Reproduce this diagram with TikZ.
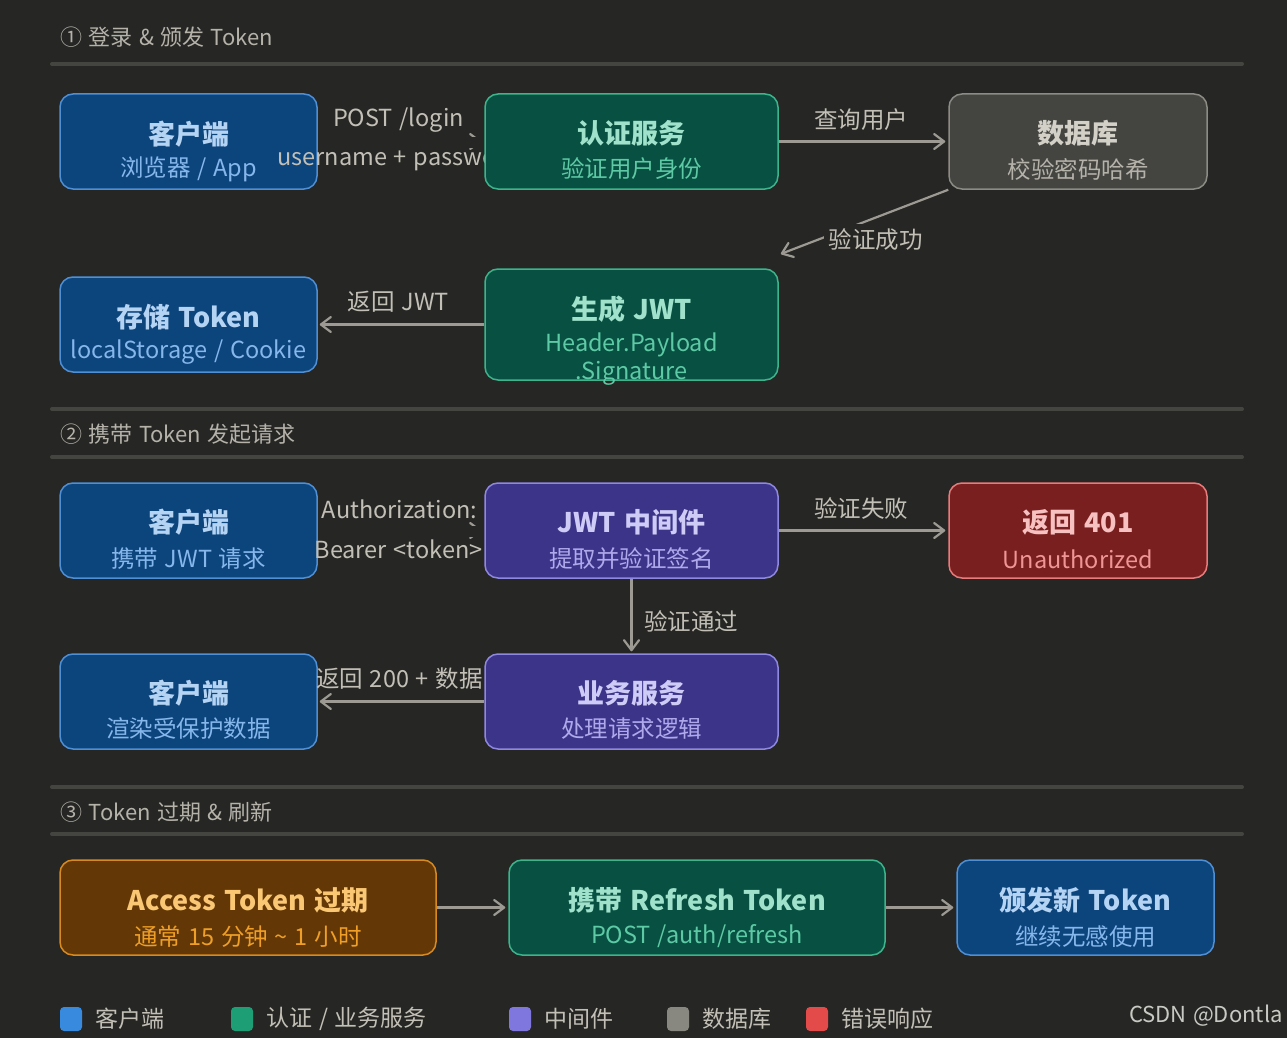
\documentclass[tikz,border=0pt]{standalone}
\usepackage{fontspec}
\setmainfont{Noto Sans CJK SC}[WordSpace=1.3]
\usepackage{xcolor}
\usepackage{tikz}
\usetikzlibrary{arrows.meta,positioning}
\pgfdeclarelayer{back}
\pgfdeclarelayer{edges}
\pgfsetlayers{back,edges,main}

\definecolor{bgc}{HTML}{262624}
\definecolor{sepc}{HTML}{444441}
\definecolor{hdrc}{HTML}{B4B2A9}
\definecolor{lblc}{HTML}{C2C0B6}
\definecolor{arrc}{HTML}{9C9A92}
\definecolor{wmc}{HTML}{C8C8C4}
% box colours: fill, line, title, subtitle
\definecolor{cliF}{HTML}{0C447C}\definecolor{cliL}{HTML}{4F8FD6}\definecolor{cliT}{HTML}{B5D4F4}\definecolor{cliS}{HTML}{85B7EB}
\definecolor{grnF}{HTML}{085041}\definecolor{grnL}{HTML}{3DB48C}\definecolor{grnT}{HTML}{9FE1CB}\definecolor{grnS}{HTML}{5DCAA5}
\definecolor{gryF}{HTML}{444441}\definecolor{gryL}{HTML}{8C8B84}\definecolor{gryT}{HTML}{D3D1C7}\definecolor{gryS}{HTML}{B4B2A9}
\definecolor{purF}{HTML}{3C3489}\definecolor{purL}{HTML}{8F88E0}\definecolor{purT}{HTML}{CECBF6}\definecolor{purS}{HTML}{AFA9EC}
\definecolor{redF}{HTML}{791F1F}\definecolor{redL}{HTML}{E87C7C}\definecolor{redT}{HTML}{F7C1C1}\definecolor{redS}{HTML}{F09595}
\definecolor{ambF}{HTML}{633806}\definecolor{ambL}{HTML}{D98A1F}\definecolor{ambT}{HTML}{FAC775}\definecolor{ambS}{HTML}{EF9F27}
% legend swatches
\definecolor{lgBlue}{HTML}{378ADD}
\definecolor{lgTeal}{HTML}{1D9E75}
\definecolor{lgPurp}{HTML}{7F77DD}
\definecolor{lgGray}{HTML}{888780}
\definecolor{lgRed}{HTML}{E24B4A}

\begin{document}
\begin{tikzpicture}[x=1pt, y=-1pt,
    box/.style={rounded corners=13pt, line width=1.5pt, minimum height=95pt, inner sep=0pt},
    cli/.style={box, fill=cliF, draw=cliL},
    grn/.style={box, fill=grnF, draw=grnL},
    gry/.style={box, fill=gryF, draw=gryL},
    pur/.style={box, fill=purF, draw=purL},
    red/.style={box, fill=redF, draw=redL},
    amb/.style={box, fill=ambF, draw=ambL},
    ttl/.style={font=\fontsize{27}{32}\selectfont\bfseries, inner sep=0pt},
    sub/.style={font=\fontsize{23.5}{28}\selectfont, inner sep=0pt, align=center},
    lbl/.style={font=\fontsize{23.5}{28}\selectfont, text=lblc, inner sep=0pt},
    hdr/.style={font=\fontsize{22}{26}\selectfont, text=hdrc, anchor=west, inner sep=0pt},
    sep/.style={draw=sepc, line width=4pt, line cap=round},
    arr/.style={draw=arrc, line width=2.2pt, -{Straight Barb[length=10pt,width=15pt,round]}, shorten >=3pt},
    sw/.style={rounded corners=4pt, minimum width=22pt, minimum height=24pt, inner sep=0pt},
    lgt/.style={font=\fontsize{23}{28}\selectfont, text=lblc, inner sep=0pt}]

  \begin{pgfonlayer}{back}
    \fill[bgc] (0,0) rectangle (1287,1038);
  \end{pgfonlayer}
  \useasboundingbox (0,0) rectangle (1287,1038);

  % section headers
  \node[hdr] (h1) at (60,37)  {① 登录 \& 颁发 Token};
  \node[hdr] (h2) at (60,434) {② 携带 Token 发起请求};
  \node[hdr] (h3) at (60,812) {③ Token 过期 \& 刷新};
  \draw[sep] (52,64)  -- (1242,64);
  \draw[sep] (52,409) -- (1242,409);
  \draw[sep] (52,457) -- (1242,457);
  \draw[sep] (52,787) -- (1242,787);
  \draw[sep] (52,834) -- (1242,834);

  % left column
  \node[cli, minimum width=257pt] (c1) at (188.5,141.5) {};
  \node[ttl, text=cliT] (c1t) at ([yshift=7.5pt]c1.center) {客户端};
  \node[sub, text=cliS] (c1s) at ([yshift=-27.5pt]c1.center) {浏览器 / App};
  \node[cli, minimum width=257pt] (st) at (188.5,324.5) {};
  \node[ttl, text=cliT] (stt) at ([yshift=7.5pt]st.center) {存储 Token};
  \node[sub, text=cliS] (sts) at ([yshift=-28pt]st.center) {localStorage / Cookie};
  \node[cli, minimum width=257pt] (c2) at (188.5,530.5) {};
  \node[ttl, text=cliT] (c2t) at ([yshift=8.5pt]c2.center) {客户端};
  \node[sub, text=cliS] (c2s) at ([yshift=-28.5pt]c2.center) {携带 JWT 请求};
  \node[cli, minimum width=257pt] (c3) at (188.5,701.5) {};
  \node[ttl, text=cliT] (c3t) at ([yshift=8.5pt]c3.center) {客户端};
  \node[sub, text=cliS] (c3s) at ([yshift=-27.5pt]c3.center) {渲染受保护数据};
  \node[amb, minimum width=376pt] (ac) at (248,907.5) {};
  \node[ttl, text=ambT] (act) at ([yshift=7.5pt]ac.center) {Access Token 过期};
  \node[sub, text=ambS] (acs) at ([yshift=-29pt]ac.center) {通常 15 分钟 \textasciitilde\ 1 小时};

  % edge labels
  \node[lbl] (l1a) at (398.5,120) {POST /login};
  \node[lbl] (l1b) at (398.5,159) {username + password};
  \node[lbl] (l2)  at (861,120)   {查询用户};
  \node[lbl, fill=bgc, inner sep=5pt] (l3) at (875.5,240) {验证成功};
  \node[lbl] (l4)  at (398.5,302) {返回 JWT};
  \node[lbl] (l5a) at (399.5,509) {Authorization:};
  \node[lbl] (l5b) at (398.5,549) {Bearer <token>};
  \node[lbl] (l6)  at (861,508)   {验证失败};
  \node[lbl, anchor=west] (l7) at (644,621) {验证通过};
  \node[lbl] (l8)  at (399.5,679) {返回 200 + 数据};

  % middle column
  \node[grn, minimum width=293pt] (au) at (631.5,141.5) {};
  \node[ttl, text=grnT] (aut) at ([yshift=8pt]au.center) {认证服务};
  \node[sub, text=grnS] (aus) at ([yshift=-27.5pt]au.center) {验证用户身份};
  \node[grn, minimum width=293pt, minimum height=111pt] (gn) at (631.5,324.5) {};
  \node[ttl, text=grnT] (gnt) at ([yshift=15.5pt]gn.center) {生成 JWT};
  \node[sub, text=grnS] (gns) at ([yshift=-34.5pt]gn.center) {Header.Payload\\.Signature};
  \node[pur, minimum width=293pt] (mw) at (631.5,530.5) {};
  \node[ttl, text=purT] (mwt) at ([yshift=8.5pt]mw.center) {JWT 中间件};
  \node[sub, text=purS] (mws) at ([yshift=-28.5pt]mw.center) {提取并验证签名};
  \node[pur, minimum width=293pt] (bz) at (631.5,701.5) {};
  \node[ttl, text=purT] (bzt) at ([yshift=8.5pt]bz.center) {业务服务};
  \node[sub, text=purS] (bzs) at ([yshift=-27.5pt]bz.center) {处理请求逻辑};
  \node[grn, minimum width=376pt] (rf) at (697,907.5) {};
  \node[ttl, text=grnT] (rft) at ([yshift=7.5pt]rf.center) {携带 Refresh Token};
  \node[sub, text=grnS] (rfs) at ([yshift=-29pt]rf.center) {POST /auth/refresh};

  % right column
  \node[gry, minimum width=258pt] (db) at (1078,141.5) {};
  \node[ttl, text=gryT] (dbt) at ([yshift=8pt]db.center) {数据库};
  \node[sub, text=gryS] (dbs) at ([yshift=-27.5pt]db.center) {校验密码哈希};
  \node[red, minimum width=258pt] (re) at (1078,530.5) {};
  \node[ttl, text=redT] (ret) at ([yshift=8.5pt]re.center) {返回 401};
  \node[sub, text=redS] (res) at ([yshift=-28.5pt]re.center) {Unauthorized};
  \node[cli, minimum width=257pt] (nt) at (1085.5,907.5) {};
  \node[ttl, text=cliT] (ntt) at ([yshift=7.5pt]nt.center) {颁发新 Token};
  \node[sub, text=cliS] (nts) at ([yshift=-29pt]nt.center) {继续无感使用};

  % connectors, under the boxes and labels
  \coordinate (okend) at (778,255);
  \begin{pgfonlayer}{edges}
    \draw[arr] (c1.east) -- (au.west);
    \draw[arr] (au.east) -- (db.west);
    \draw[arr] (db.south west) -- (okend);
    \draw[arr, shorten >=2pt] (gn.west) -- (st.east);
    \draw[arr] (c2.east) -- (mw.west);
    \draw[arr] (mw.east) -- (re.west);
    \draw[arr, shorten >=2pt] (mw.south) -- (bz.north);
    \draw[arr, shorten >=2pt] (bz.west) -- (c3.east);
    \draw[arr] (ac.east) -- (rf.west);
    \draw[arr] (rf.east) -- (nt.west);
    \fill[bgc] ([yshift=4.5pt]c1.east) rectangle ([yshift=-6pt]au.west);
    \fill[bgc] ([yshift=4.5pt]c2.east) rectangle ([yshift=-6pt]mw.west);
  \end{pgfonlayer}

  % legend
  \node[sw, fill=lgBlue] (lg1) at (71,1019)  {};
  \node[lgt, right=13pt of lg1] (lg1t) {客户端};
  \node[sw, fill=lgTeal] (lg2) at (242,1019) {};
  \node[lgt, right=13pt of lg2] (lg2t) {认证 / 业务服务};
  \node[sw, fill=lgPurp] (lg3) at (520,1019) {};
  \node[lgt, right=13pt of lg3] (lg3t) {中间件};
  \node[sw, fill=lgGray] (lg4) at (678,1019) {};
  \node[lgt, right=13pt of lg4] (lg4t) {数据库};
  \node[sw, fill=lgRed]  (lg5) at (817,1019) {};
  \node[lgt, right=13pt of lg5] (lg5t) {错误响应};
  \node[font=\fontsize{22}{26}\selectfont, text=wmc, anchor=east, inner sep=0pt] (wm) at (1283,1016) {CSDN @Dontla};
\end{tikzpicture}
\end{document}
